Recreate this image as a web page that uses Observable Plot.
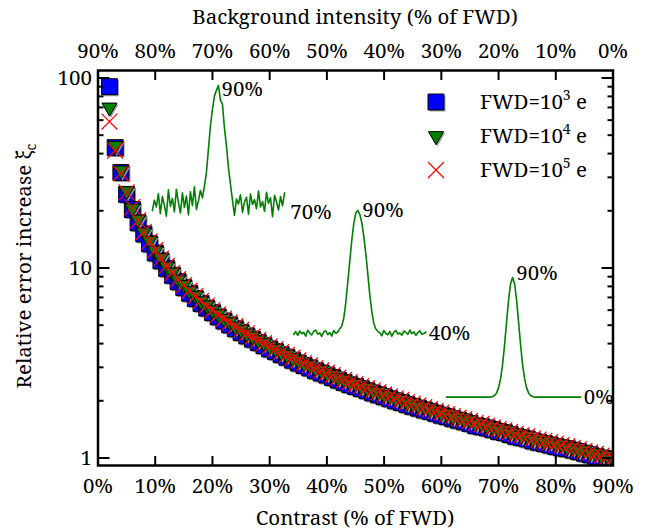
<!DOCTYPE html>
<html><head><meta charset="utf-8">
<script src="https://cdn.jsdelivr.net/npm/d3@7"></script>
<script src="https://cdn.jsdelivr.net/npm/@observablehq/plot@0.6"></script>
<style>
body{margin:0;background:#fff;}
#wrap{position:relative;width:646px;height:531px;}
</style></head><body><div id="wrap"></div>
<script>
const FONT = '"Noto Serif", "Liberation Serif", serif';
const FS = 20.5;

// Contrast (% of FWD) for every sample
const contrast = [2,3,4,5,6,7,8,9,10,11,12,13,14,15,16,17,18,19,20,21,22,23,24,25,26,27,28,29,30,31,32,33,34,35,36,37,38,39,40,41,42,43,44,45,46,47,48,49,50,51,52,53,54,55,56,57,58,59,60,61,62,63,64,65,66,67,68,69,70,71,72,73,74,75,76,77,78,79,80,81,82,83,84,85,86,87,88,89,90];

// FWD = 10^3 e (blue squares)
const xiFwd3 = [90,43,31.8,24.4,20.3,17.3,15.1,13.4,12.0,10.9,9.95,9.15,8.47,7.88,7.36,6.91,6.51,6.15,5.82,5.53,5.26,5.02,4.79,4.58,4.39,4.22,4.05,3.90,3.75,3.63,3.50,3.39,3.27,3.16,3.07,2.98,2.88,2.80,2.73,2.65,2.57,2.50,2.43,2.38,2.32,2.26,2.20,2.15,2.10,2.05,2.00,1.96,1.91,1.87,1.83,1.79,1.76,1.72,1.68,1.65,1.61,1.58,1.55,1.52,1.48,1.46,1.44,1.41,1.38,1.36,1.33,1.30,1.28,1.26,1.23,1.21,1.19,1.17,1.15,1.13,1.12,1.10,1.08,1.06,1.04,1.02,1.00,0.99,0.97];
// FWD = 10^4 e (green triangles)
const xiFwd4 = [70,44,32.6,25.4,20.6,18.0,15.4,13.9,12.3,11.3,10.2,9.48,8.70,8.15,7.56,7.15,6.69,6.36,5.98,5.72,5.40,5.19,4.92,4.73,4.52,4.36,4.17,4.03,3.86,3.75,3.60,3.50,3.36,3.27,3.15,3.08,2.96,2.90,2.80,2.74,2.64,2.59,2.50,2.46,2.38,2.34,2.26,2.23,2.15,2.12,2.05,2.03,1.96,1.94,1.88,1.86,1.80,1.78,1.72,1.71,1.65,1.64,1.59,1.58,1.52,1.52,1.47,1.46,1.41,1.41,1.36,1.35,1.31,1.31,1.26,1.26,1.22,1.22,1.18,1.18,1.14,1.14,1.10,1.10,1.06,1.06,1.02,1.03,0.99];
// FWD = 10^5 e (red crosses)
const xiFwd5 = [59,41.5,31.5,25.0,20.9,17.8,15.5,13.8,12.4,11.2,10.25,9.43,8.73,8.12,7.59,7.12,6.71,6.34,6.00,5.70,5.42,5.17,4.94,4.72,4.53,4.35,4.18,4.02,3.87,3.74,3.61,3.49,3.37,3.26,3.16,3.07,2.97,2.89,2.81,2.73,2.65,2.58,2.51,2.45,2.39,2.33,2.27,2.22,2.16,2.11,2.06,2.02,1.97,1.93,1.89,1.85,1.81,1.77,1.73,1.70,1.66,1.63,1.60,1.57,1.53,1.51,1.48,1.45,1.42,1.40,1.37,1.34,1.32,1.30,1.27,1.25,1.23,1.21,1.19,1.17,1.15,1.13,1.11,1.09,1.07,1.05,1.03,1.02,1.00];

// Tick labels
const xTicks = [0,10,20,30,40,50,60,70,80,90];
const contrastLabels = ["0%","10%","20%","30%","40%","50%","60%","70%","80%","90%"];
const backgroundLabels = ["90%","80%","70%","60%","50%","40%","30%","20%","10%","0%"];
const yMajor = [1,10,100];
const yMinor = [2,3,4,5,6,7,8,9,20,30,40,50,60,70,80,90];

// Legend
const seriesNames = ["FWD=10", "FWD=10", "FWD=10"];
const seriesExp = ["3", "4", "5"];

// Inset profiles (intensity, % of FWD)
const profile70 = [69.5,71.2,70.1,72.3,69.0,71.8,70.4,68.6,72.9,70.2,71.5,69.3,73.0,70.8,69.1,72.4,70.0,71.9,68.8,72.6,70.3,73.4,69.7,71.1,72.8,71.6,
  73.5,75.8,79.6,83.4,86.1,88.3,89.2,90.0,87.6,86.9,83.0,80.1,76.5,73.8,71.2,
  68.7,71.4,70.6,72.1,69.2,70.9,71.7,68.9,72.2,70.5,71.3,69.8,72.7,70.1,71.0,69.4,72.5,70.7,71.6,68.5,72.0,70.9,69.6,71.8,70.3,72.4];
const profile40 = [39.6,40.8,39.2,41.0,39.9,40.5,38.9,41.3,40.2,39.4,40.9,41.4,39.7,40.3,38.8,40.7,41.1,39.5,40.4,39.0,41.2,40.1,
  40.6,41.9,43.0,46.2,52.5,60.8,69.4,77.8,84.6,88.9,90.0,88.4,85.1,79.3,72.5,64.2,55.6,48.9,44.1,41.8,40.9,
  40.3,39.1,41.2,40.0,39.5,40.8,38.9,40.6,41.3,39.8,40.2,39.3,41.0,40.5,39.6,41.4,39.9,40.7,39.2,40.4,41.1,39.7,40.0,40.6];
const profile0 = [0,0,0,0,0,0,0,0,0,0,0,0,0,0,0,0,0,0,0,0,0,0,0,
  0.5,1.3,3.2,7.0,13.8,24.5,39.2,56.4,73.1,85.4,90,85.4,73.1,56.4,39.2,24.5,13.8,7.0,3.2,1.3,0.5,
  0,0,0,0,0,0,0,0,0,0,0,0,0,0,0,0,0,0,0,0,0,0,0,0];

const rows = contrast.map((c, i) => ({c, b: xiFwd3[i], g: xiFwd4[i], r: xiFwd5[i]}));

// place an inset profile inside the plot (layout: start contrast, step, baseline/peak y levels)
function placeProfile(profile, base, x0, step, yBase, yPeak) {
  const l0 = Math.log10(yBase), l1 = Math.log10(yPeak);
  return profile.map((v, i) => ({x: x0 + i * step, y: Math.pow(10, l0 + (v - base) / (90 - base) * (l1 - l0))}));
}
const step = 0.35;
const inset1 = placeProfile(profile70, 70, 9.5, step, 20.8, 91.3);
const inset2 = placeProfile(profile40, 40, 34.2, step, 4.52, 20.1);
const inset3 = placeProfile(profile0, 0, 60.9, step, 2.09, 8.91);
const insetLabels = [
  {x: 21.6, y: 86.9, t: "90%"}, {x: 33.6, y: 19.6, t: "70%"},
  {x: 46.2, y: 20.1, t: "90%"}, {x: 57.8, y: 4.52, t: "40%"},
  {x: 73.1, y: 9.36, t: "90%"}, {x: 84.9, y: 2.09, t: "0%"}
];

const GREEN = "#008000";
const shadow = {fill: "#9a9a9a", stroke: "none", dx: 1.5, dy: 1.5, clip: true};

const chart = Plot.plot({
  width: 646, height: 531,
  marginLeft: 97.5, marginRight: 33.5, marginTop: 70, marginBottom: 66,
  style: {fontFamily: FONT, fontSize: FS + "px", background: "white", color: "black", overflow: "visible"},
  x: {domain: [0, 90]},
  y: {type: "log", domain: [0.913, 109.5]},
  marks: [
    Plot.line(inset1, {x: "x", y: "y", stroke: GREEN, strokeWidth: 1.6}),
    Plot.line(inset2, {x: "x", y: "y", stroke: GREEN, strokeWidth: 1.6}),
    Plot.line(inset3, {x: "x", y: "y", stroke: GREEN, strokeWidth: 1.6}),
    Plot.text(insetLabels, {x: "x", y: "y", text: "t", textAnchor: "start", fontSize: FS, fill: "black"}),

    Plot.dot(rows, {x: "c", y: "b", symbol: "square", r: 9, ...shadow}),
    Plot.dot(rows, {x: "c", y: "b", symbol: "square", r: 9, fill: "#0000ff", stroke: "black", strokeWidth: 1, clip: true}),
    Plot.dot(rows, {x: "c", y: "g", symbol: "triangle", rotate: 180, r: 5.6, ...shadow}),
    Plot.dot(rows, {x: "c", y: "g", symbol: "triangle", rotate: 180, r: 5.6, fill: GREEN, stroke: "black", strokeWidth: 1, clip: true}),
    Plot.dot(rows, {x: "c", y: "r", symbol: "times", r: 7.3, stroke: "#ff0000", strokeWidth: 1.2, fill: "none", clip: true}),

    Plot.frame({stroke: "black", strokeWidth: 2.5}),

    // tick labels
    Plot.axisX({anchor: "bottom", ticks: xTicks, tickSize: 0, tickPadding: 13, tickFormat: d => contrastLabels[xTicks.indexOf(d)], label: null}),
    Plot.axisX({anchor: "top", ticks: xTicks, tickSize: 0, tickPadding: 13, tickFormat: d => backgroundLabels[xTicks.indexOf(d)], label: null}),
    Plot.axisY({anchor: "left", ticks: yMajor, tickSize: 0, tickPadding: 6, tickFormat: d => String(d), label: null}),
    // inward tick marks
    Plot.axisX({anchor: "bottom", ticks: xTicks, tickSize: 9, dy: -9, tickFormat: () => "", label: null, strokeWidth: 2}),
    Plot.axisX({anchor: "top", ticks: xTicks, tickSize: 9, dy: 9, tickFormat: () => "", label: null, strokeWidth: 2}),
    Plot.axisY({anchor: "left", ticks: yMajor, tickSize: 12, dx: 12, tickFormat: () => "", label: null, strokeWidth: 2}),
    Plot.axisY({anchor: "left", ticks: yMinor, tickSize: 6, dx: 6, tickFormat: () => "", label: null, strokeWidth: 2}),
    Plot.axisY({anchor: "right", ticks: yMajor, tickSize: 12, dx: -12, tickFormat: () => "", label: null, strokeWidth: 2}),
    Plot.axisY({anchor: "right", ticks: yMinor, tickSize: 6, dx: -6, tickFormat: () => "", label: null, strokeWidth: 2})
  ]
});

document.getElementById("wrap").appendChild(chart);
const svg = d3.select(chart);

// axis titles
svg.append("text").attr("x", 355).attr("y", 24).attr("text-anchor", "middle")
  .attr("font-family", FONT).attr("font-size", FS).text("Background intensity (% of FWD)");
svg.append("text").attr("x", 355).attr("y", 525).attr("text-anchor", "middle")
  .attr("font-family", FONT).attr("font-size", FS).text("Contrast (% of FWD)");
const yl = svg.append("text").attr("transform", "translate(31,266) rotate(-90)").attr("text-anchor", "middle")
  .attr("font-family", FONT).attr("font-size", FS);
yl.append("tspan").text("Relative error increase ξ");
yl.append("tspan").attr("font-size", 14).attr("dy", 5).text("c");

// legend
const legendSyms = [
  {sym: d3.symbolSquare, size: 81 * Math.PI, fill: "#0000ff", stroke: "black", rot: 0},
  {sym: d3.symbolTriangle, size: 5.6 * 5.6 * Math.PI, fill: GREEN, stroke: "black", rot: 180},
  {sym: d3.symbolTimes, size: 7.3 * 7.3 * Math.PI, fill: "none", stroke: "#ff0000", rot: 0}
];
legendSyms.forEach((d, i) => {
  const y = 102 + i * 34;
  const p = d3.symbol(d.sym, d.size)();
  if (d.fill !== "none") {
    svg.append("path").attr("d", p).attr("transform", `translate(437.5,${y + 1.5}) rotate(${d.rot})`)
      .attr("fill", "#9a9a9a").attr("stroke", "none");
  }
  svg.append("path").attr("d", p).attr("transform", `translate(436,${y}) rotate(${d.rot})`)
    .attr("fill", d.fill).attr("stroke", d.stroke).attr("stroke-width", d.fill === "none" ? 1.2 : 1);
  const t = svg.append("text").attr("x", 480).attr("y", y + 7).attr("text-anchor", "start")
    .attr("font-family", FONT).attr("font-size", FS);
  t.append("tspan").text(seriesNames[i]);
  t.append("tspan").attr("font-size", 14).attr("dy", -9).text(seriesExp[i]);
  t.append("tspan").attr("dy", 9).text(" e");
});
</script>
</body></html>
